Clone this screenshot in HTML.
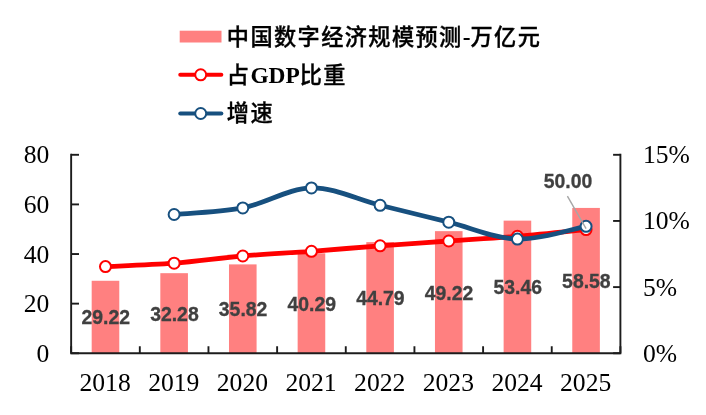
<!DOCTYPE html>
<html lang="zh">
<head>
<meta charset="utf-8">
<title>中国数字经济规模预测</title>
<style>
html,body{margin:0;padding:0;background:#fff;}
body{width:706px;height:415px;overflow:hidden;}
svg{display:block;}
.ax{font-family:"Liberation Serif","Noto Serif CJK SC",serif;font-size:25.6px;fill:#000;}
.lg{font-family:"Liberation Serif","Noto Sans CJK SC",sans-serif;font-size:22.2px;letter-spacing:1.4px;fill:#000;font-weight:500;stroke:#000;stroke-width:0.35px;}
.lg .b{font-weight:700;font-size:23.4px;letter-spacing:0;stroke:none;}
.dl{font-family:"Liberation Sans","Noto Sans CJK SC",sans-serif;font-size:19.4px;font-weight:700;fill:#404040;stroke:#404040;stroke-width:0.3px;text-anchor:middle;}
</style>
</head>
<body>
<svg width="706" height="415" viewBox="0 0 706 415">
<rect x="0" y="0" width="706" height="415" fill="#fff"/>

<rect x="179.7" y="30.7" width="41.8" height="11.8" fill="#FF8080"/>
<text class="lg" x="226.8" y="44.6">中国数字经济规模预测<tspan class="b">-</tspan>万亿元</text>
<line x1="180.3" y1="74.8" x2="221.3" y2="74.8" stroke="#FF0000" stroke-width="4.1" stroke-linecap="round"/>
<circle cx="200.7" cy="74.8" r="5.5" fill="#fff" stroke="#FF0000" stroke-width="2"/>
<text class="lg" x="226.8" y="82.8">占<tspan class="b">GDP</tspan>比重</text>
<line x1="180.3" y1="113.5" x2="221.3" y2="113.5" stroke="#17507F" stroke-width="4.1" stroke-linecap="round"/>
<circle cx="200.7" cy="113.5" r="5.5" fill="#fff" stroke="#17507F" stroke-width="2"/>
<text class="lg" x="226.8" y="120.6">增速</text>
<rect x="91.68" y="280.77" width="27.60" height="72.48" fill="#FF8080"/>
<rect x="160.33" y="273.18" width="27.60" height="80.07" fill="#FF8080"/>
<rect x="228.99" y="264.39" width="27.60" height="88.86" fill="#FF8080"/>
<rect x="297.65" y="253.31" width="27.60" height="99.94" fill="#FF8080"/>
<rect x="366.30" y="242.14" width="27.60" height="111.11" fill="#FF8080"/>
<rect x="434.96" y="231.15" width="27.60" height="122.10" fill="#FF8080"/>
<rect x="503.62" y="220.64" width="27.60" height="132.61" fill="#FF8080"/>
<rect x="572.27" y="207.93" width="27.60" height="145.32" fill="#FF8080"/>
<g stroke="#1c1c1c" stroke-width="1.9" fill="none">
<path d="M71.15,153.85 V353.25 H620.40 V153.85"/>
<line x1="71.15" y1="353.25" x2="79.00" y2="353.25"/>
<line x1="71.15" y1="303.64" x2="79.00" y2="303.64"/>
<line x1="71.15" y1="254.03" x2="79.00" y2="254.03"/>
<line x1="71.15" y1="204.41" x2="79.00" y2="204.41"/>
<line x1="71.15" y1="154.80" x2="79.00" y2="154.80"/>
<line x1="620.40" y1="353.25" x2="613.10" y2="353.25"/>
<line x1="620.40" y1="287.10" x2="613.10" y2="287.10"/>
<line x1="620.40" y1="220.95" x2="613.10" y2="220.95"/>
<line x1="620.40" y1="154.80" x2="613.10" y2="154.80"/>
<line x1="71.15" y1="353.25" x2="71.15" y2="346.25"/>
<line x1="139.81" y1="353.25" x2="139.81" y2="346.25"/>
<line x1="208.46" y1="353.25" x2="208.46" y2="346.25"/>
<line x1="277.12" y1="353.25" x2="277.12" y2="346.25"/>
<line x1="345.77" y1="353.25" x2="345.77" y2="346.25"/>
<line x1="414.43" y1="353.25" x2="414.43" y2="346.25"/>
<line x1="483.09" y1="353.25" x2="483.09" y2="346.25"/>
<line x1="551.74" y1="353.25" x2="551.74" y2="346.25"/>
<line x1="620.40" y1="353.25" x2="620.40" y2="346.25"/>
</g>
<text class="ax" text-anchor="end" x="49.3" y="361.90">0</text>
<text class="ax" text-anchor="end" x="49.3" y="312.22">20</text>
<text class="ax" text-anchor="end" x="49.3" y="262.55">40</text>
<text class="ax" text-anchor="end" x="49.3" y="212.88">60</text>
<text class="ax" text-anchor="end" x="49.3" y="163.20">80</text>
<text class="ax" x="643" y="361.90">0%</text>
<text class="ax" x="643" y="295.67">5%</text>
<text class="ax" x="643" y="229.43">10%</text>
<text class="ax" x="643" y="163.20">15%</text>
<text class="ax" text-anchor="middle" x="105.08" y="391">2018</text>
<text class="ax" text-anchor="middle" x="173.73" y="391">2019</text>
<text class="ax" text-anchor="middle" x="242.39" y="391">2020</text>
<text class="ax" text-anchor="middle" x="311.05" y="391">2021</text>
<text class="ax" text-anchor="middle" x="379.70" y="391">2022</text>
<text class="ax" text-anchor="middle" x="448.36" y="391">2023</text>
<text class="ax" text-anchor="middle" x="517.02" y="391">2024</text>
<text class="ax" text-anchor="middle" x="585.67" y="391">2025</text>
<text class="dl" x="105.78" y="324.41">29.22</text>
<text class="dl" x="174.43" y="320.61">32.28</text>
<text class="dl" x="243.09" y="316.22">35.82</text>
<text class="dl" x="311.75" y="310.68">40.29</text>
<text class="dl" x="380.40" y="305.10">44.79</text>
<text class="dl" x="449.06" y="299.60">49.22</text>
<text class="dl" x="517.72" y="294.34">53.46</text>
<text class="dl" x="586.37" y="287.99">58.58</text>
<path d="M105.48,266.60 C116.92,266.03 151.25,264.97 174.13,263.20 C197.02,261.43 219.91,257.98 242.79,256.00 C265.68,254.02 288.56,253.00 311.45,251.30 C334.33,249.60 357.22,247.52 380.10,245.80 C402.99,244.08 425.87,242.58 448.76,241.00 C471.64,239.42 494.53,238.20 517.42,236.30 C540.30,234.40 574.63,230.72 586.07,229.60" fill="none" stroke="#FF0000" stroke-width="4.8" stroke-linecap="round" stroke-linejoin="round"/>
<circle cx="105.48" cy="266.60" r="5.5" fill="#fff" stroke="#FF0000" stroke-width="2"/>
<circle cx="174.13" cy="263.20" r="5.5" fill="#fff" stroke="#FF0000" stroke-width="2"/>
<circle cx="242.79" cy="256.00" r="5.5" fill="#fff" stroke="#FF0000" stroke-width="2"/>
<circle cx="311.45" cy="251.30" r="5.5" fill="#fff" stroke="#FF0000" stroke-width="2"/>
<circle cx="380.10" cy="245.80" r="5.5" fill="#fff" stroke="#FF0000" stroke-width="2"/>
<circle cx="448.76" cy="241.00" r="5.5" fill="#fff" stroke="#FF0000" stroke-width="2"/>
<circle cx="517.42" cy="236.30" r="5.5" fill="#fff" stroke="#FF0000" stroke-width="2"/>
<circle cx="586.07" cy="229.60" r="5.5" fill="#fff" stroke="#FF0000" stroke-width="2"/>
<path d="M174.13,214.50 C185.58,213.41 219.91,212.39 242.79,207.96 C265.68,203.54 288.56,188.40 311.45,187.95 C334.33,187.51 357.22,199.58 380.10,205.28 C402.99,210.99 425.87,216.56 448.76,222.20 C471.64,227.83 494.53,238.39 517.42,239.08 C540.30,239.77 574.63,228.47 586.07,226.34" fill="none" stroke="#17507F" stroke-width="4.8" stroke-linecap="round" stroke-linejoin="round"/>
<circle cx="174.13" cy="214.50" r="5.5" fill="#fff" stroke="#17507F" stroke-width="2"/>
<circle cx="242.79" cy="207.96" r="5.5" fill="#fff" stroke="#17507F" stroke-width="2"/>
<circle cx="311.45" cy="187.95" r="5.5" fill="#fff" stroke="#17507F" stroke-width="2"/>
<circle cx="380.10" cy="205.28" r="5.5" fill="#fff" stroke="#17507F" stroke-width="2"/>
<circle cx="448.76" cy="222.20" r="5.5" fill="#fff" stroke="#17507F" stroke-width="2"/>
<circle cx="517.42" cy="239.08" r="5.5" fill="#fff" stroke="#17507F" stroke-width="2"/>
<circle cx="586.07" cy="226.34" r="5.5" fill="#fff" stroke="#17507F" stroke-width="2"/>
<line x1="567.4" y1="196.1" x2="586.07" y2="228.60" stroke="#A6A6A6" stroke-width="1.4"/>
<text class="dl" x="568" y="187.8">50.00</text>
</svg>
</body>
</html>
